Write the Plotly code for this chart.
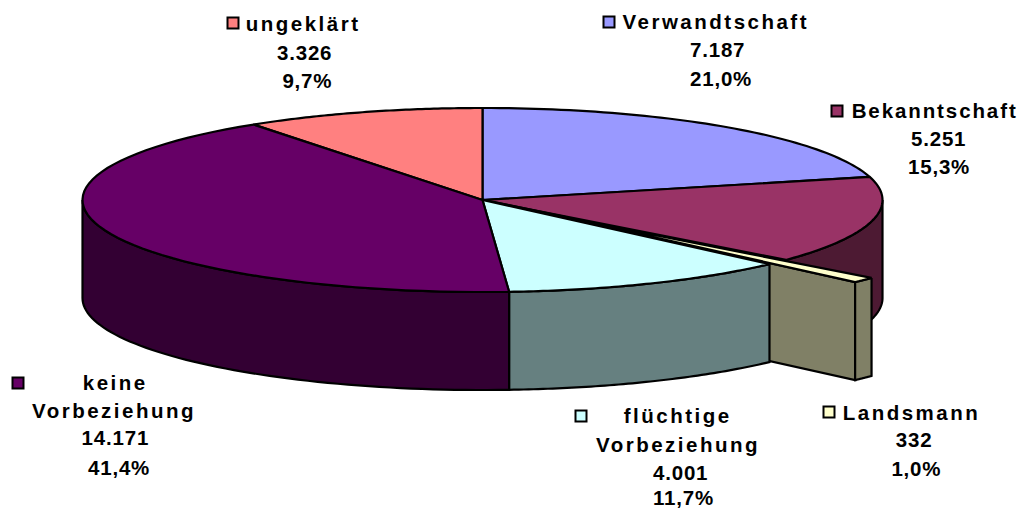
import math
import plotly.graph_objects as go

# --- data, clockwise from 12 o'clock ---
categories = ["Verwandtschaft", "Bekanntschaft", "Landsmann", "flüchtige Vorbeziehung", "keine Vorbeziehung", "ungeklärt"]
values = [7187, 5251, 332, 4001, 14171, 3326]
value_labels = ["7.187", "5.251", "332", "4.001", "14.171", "3.326"]
percent_labels = ["21,0%", "15,3%", "1,0%", "11,7%", "41,4%", "9,7%"]
top_colors = ["#9999FF", "#993366", "#FFFFCC", "#CCFFFF", "#660066", "#FF8080"]
wall_colors = ["#4D4D80", "#4D1A33", "#808066", "#668080", "#330033", "#804040"]
explode = [0, 0, 0.29, 0, 0, 0]

# --- projection of the pie onto the plot area ---
CX, CY, RX, RY, DEPTH = 482.5, 200, 400, 92, 98
LW = 2.2

# --- label layout: (centre x, y) per text line ---
label_lines = {
    0: [(716, 21), (717, 49), (721, 78)],
    1: [(934, 110), (938, 138), (939, 166)],
    2: [(911, 412), (914, 439), (916, 468)],
    3: [(677, 415), (678, 444), (680, 472), (683, 497)],
    4: [(115, 382), (114, 410), (115, 437), (119, 467)],
    5: [(303, 23), (304, 52), (307, 80)],
}
key_pos = [(609, 22), (837, 111), (829, 412), (581, 416), (18, 383), (233, 23)]

total = sum(values)
angles = [0.0]
for v in values:
    angles.append(angles[-1] + 2 * math.pi * v / total)


def offset(i):
    mid = (angles[i] + angles[i + 1]) / 2
    return RX * explode[i] * math.sin(mid), -RY * explode[i] * math.cos(mid)


def arc(a0, a1, dx=0.0, dy=0.0, dz=0.0, n=60):
    pts = []
    for k in range(n + 1):
        t = a0 + (a1 - a0) * k / n
        pts.append((CX + dx + RX * math.sin(t), CY + dy + dz - RY * math.cos(t)))
    return pts


fig = go.Figure()


def poly(pts, fill, lw=LW):
    pts = list(pts) + [pts[0]]
    fig.add_trace(go.Scatter(
        x=[p[0] for p in pts], y=[p[1] for p in pts], mode="lines", fill="toself",
        fillcolor=fill, line=dict(color="#000000", width=lw, simplify=False),
        hoverinfo="skip", showlegend=False))


def top_face(i):
    dx, dy = offset(i)
    poly([(CX + dx, CY + dy)] + arc(angles[i], angles[i + 1], dx, dy), top_colors[i])


def outer_wall(i, a0=None, a1=None):
    a0 = angles[i] if a0 is None else a0
    a1 = angles[i + 1] if a1 is None else a1
    dx, dy = offset(i)
    poly(arc(a0, a1, dx, dy) + arc(a1, a0, dx, dy, DEPTH), wall_colors[i])


# back slices
outer_wall(1, a0=math.pi / 2)
top_face(0)
top_face(1)
top_face(5)

# exploded sliver
dx2, dy2 = offset(2)
apex = (CX + dx2, CY + dy2)
rim_front = arc(angles[3], angles[3], dx2, dy2, n=1)[0]
poly([apex, rim_front, (rim_front[0], rim_front[1] + DEPTH), (apex[0], apex[1] + DEPTH)], wall_colors[2])
outer_wall(2)
fig.add_trace(go.Scatter(x=[CX, apex[0]], y=[CY, apex[1]], mode="lines",
                         line=dict(color="#000000", width=3), hoverinfo="skip", showlegend=False))
top_face(2)

# front slices
outer_wall(3)
outer_wall(4, a1=1.5 * math.pi)
top_face(3)
top_face(4)

# legend keys
for i, (kx, ky) in enumerate(key_pos):
    fig.add_trace(go.Scatter(
        x=[kx], y=[ky], mode="markers", hoverinfo="skip", showlegend=False,
        marker=dict(symbol="square", size=11, color=top_colors[i], line=dict(color="#000000", width=2))))

# labels
font = dict(family="Liberation Sans", color="#000000", size=20.5, weight="bold")
for i, lines in label_lines.items():
    texts = categories[i].split(" ") + [value_labels[i], percent_labels[i]]
    for (tx, ty), text in zip(lines, texts):
        fig.add_annotation(x=tx, y=ty, text=text, showarrow=False, xanchor="center", yanchor="middle", font=font)

fig.update_layout(
    width=1019, height=508, margin=dict(l=0, r=0, t=0, b=0),
    paper_bgcolor="#FFFFFF", plot_bgcolor="#FFFFFF", showlegend=False,
    xaxis=dict(range=[0, 1019], visible=False, fixedrange=True),
    yaxis=dict(range=[508, 0], visible=False, fixedrange=True),
)

post = """
document.body.style.margin = '0';
document.querySelectorAll('.annotation-text').forEach(function (el) {
  var t = el.textContent;
  var isName = /[A-Za-zäöü]/.test(t);
  el.style.letterSpacing = t === 'Bekanntschaft' ? '1.9px' : (isName ? '2.5px' : '0.8px');
});
"""
fig.write_html("out.html", post_script=post, config=dict(displayModeBar=False))
